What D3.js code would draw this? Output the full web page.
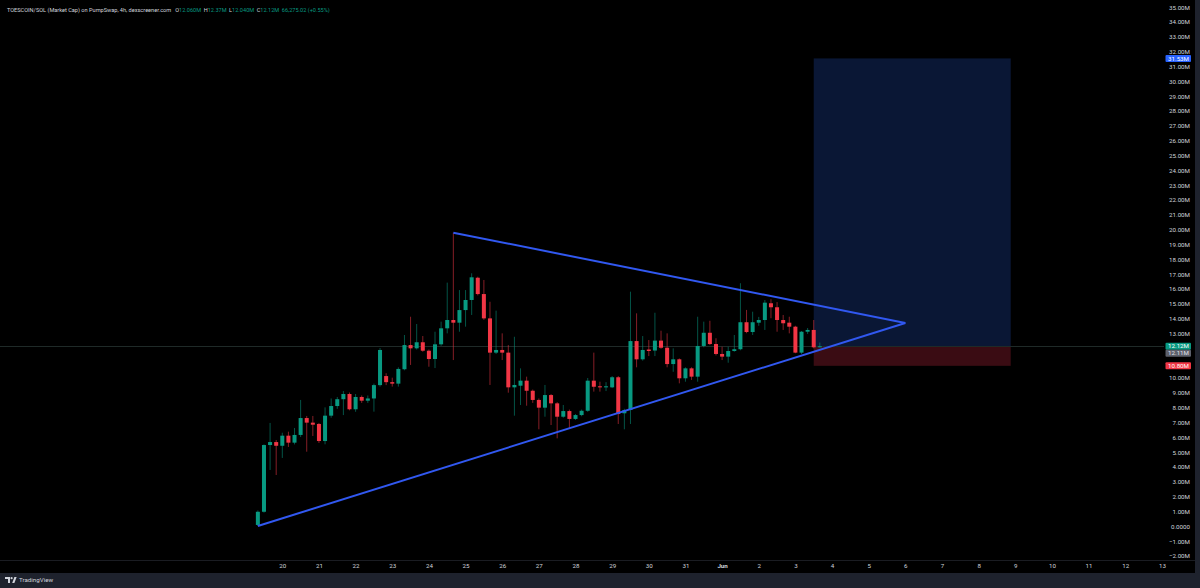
<!DOCTYPE html>
<html><head><meta charset="utf-8">
<script src="https://cdn.jsdelivr.net/npm/d3@7/dist/d3.min.js"></script>
<style>
html,body{margin:0;padding:0;background:#000;}
svg{display:block;}
text{font-family:Roboto,"Liberation Sans",Arial,sans-serif;}
</style></head>
<body>
<svg id="chart" width="1200" height="588"></svg>
<script>
// ---------- DATA ----------
const firstCandle = "2025-05-19T08:00:00Z"; // 4h candles
const opens  = [0.07,0.96,5.46,5.66,5.41,6.09,5.62,6.14,7.28,6.97,6.88,5.73,7.44,8.09,8.55,8.90,7.87,8.70,8.45,8.60,9.50,10.11,9.70,9.60,10.57,12.20,11.98,12.39,11.82,11.26,12.25,13.33,13.89,13.71,14.56,15.24,16.74,15.64,14.00,11.69,11.87,11.69,9.35,9.46,9.80,9.12,8.50,7.98,8.83,8.27,7.37,7.75,7.22,7.48,7.77,9.80,9.42,9.35,9.35,10.03,7.60,7.82,12.47,11.24,11.90,11.83,12.50,12.02,10.92,11.24,9.96,10.63,10.07,12.14,13.03,12.27,11.60,11.42,11.80,11.92,13.74,13.08,13.71,13.89,15.02,14.75,13.89,13.71,13.44,11.69,13.10,13.22,12.06];
const highs  = [1.05,5.50,6.95,5.80,6.29,6.36,6.61,8.50,7.42,7.42,6.95,8.00,8.60,8.70,9.10,9.00,8.90,8.80,8.80,9.60,12.00,10.30,10.00,10.70,12.88,14.11,13.62,12.81,11.90,13.10,13.78,16.41,19.78,15.91,15.91,17.04,16.81,16.59,15.12,14.52,12.99,12.20,12.76,10.63,10.07,9.20,8.60,9.51,8.90,8.35,8.16,7.85,7.55,7.85,9.98,11.69,9.73,9.70,10.11,10.11,7.90,15.80,14.34,12.81,12.54,14.38,13.17,12.99,11.98,11.30,10.70,10.70,14.11,13.78,13.84,12.66,12.09,12.09,12.88,16.37,14.57,14.45,14.10,15.24,15.29,15.10,14.23,14.11,13.50,13.15,13.35,13.89,12.37];
const lows   = [0.00,0.90,3.78,3.44,4.59,5.33,5.50,6.00,5.01,6.07,5.60,5.51,7.30,7.90,7.48,7.80,7.70,8.30,8.30,7.71,9.40,9.50,9.40,9.40,10.50,10.86,11.90,11.75,10.74,10.65,12.15,12.99,11.19,13.10,13.44,14.23,15.55,13.90,9.51,11.60,11.19,8.99,7.44,8.16,8.11,8.30,6.52,7.37,6.81,5.91,7.30,6.59,7.15,7.40,7.70,9.06,9.06,9.10,9.30,6.88,6.52,6.88,10.70,11.15,11.46,11.46,11.95,10.70,10.40,9.62,9.73,9.85,9.73,12.05,12.20,11.50,11.19,11.01,11.75,11.85,13.00,12.88,13.50,13.22,14.01,13.10,13.22,12.99,11.65,11.60,12.95,11.98,12.04];
const closes = [0.96,5.46,5.66,5.41,6.09,5.62,6.14,7.28,6.97,6.83,5.73,7.44,8.09,8.55,8.90,7.87,8.70,8.45,8.60,9.50,11.87,9.70,9.60,10.59,12.20,11.98,12.39,11.82,11.26,12.25,13.33,13.89,13.71,14.56,15.24,16.77,15.64,14.00,11.69,11.87,11.69,9.35,9.51,9.80,9.12,8.50,7.98,8.83,8.27,7.37,7.75,7.22,7.48,7.77,9.80,9.39,9.35,9.42,10.03,7.55,7.82,12.47,11.24,11.87,11.80,12.50,12.02,10.92,11.24,9.96,10.63,10.07,12.14,13.03,12.27,11.60,11.42,11.80,11.92,13.74,13.08,13.74,13.89,15.06,14.75,13.89,13.67,13.44,11.69,13.10,13.22,12.05,12.12];

const trendUpper = [{t:"2025-05-24T16:00:00Z", v:19.78},{t:"2025-06-06T00:00:00Z", v:13.69}];
const trendLower = [{t:"2025-05-19T08:00:00Z", v:0.00},{t:"2025-06-06T00:00:00Z", v:13.69}];
const posStart = "2025-06-03T12:00:00Z", posEnd = "2025-06-08T21:00:00Z";
const posTarget = 31.53, posEntry = 12.11, posStop = 10.80, lastPrice = 12.12;

// 11.00M and 12.00M sit under the price badges in the reference
const yTicks = d3.range(-2, 36, 1).filter(v => v !== 11 && v !== 12);
const xTickDays = d3.range(0, 25).map(i => new Date(Date.UTC(2025, 4, 20 + i)));

const headerTitle = "TOESCOIN/SOL (Market Cap) on PumpSwap, 4h, dexscreener.com";
const headerOHLC = [["O","12.060M"],["H","12.37M"],["L","12.040M"],["C","12.12M"]];
const headerChange = "66,275.02 (+0.55%)";

// ---------- LAYOUT ----------
const W = 1200, H = 588;
const plotRight = 1164, plotBottom = 560;
const UP = "#089981", DOWN = "#f23645", TEXT = "#d1d4dc", LINE = "#3158f0";

const svg = d3.select("#chart");
svg.append("rect").attr("width", W).attr("height", H).attr("fill", "#000");

const x = d3.scaleUtc()
  .domain([new Date(Date.UTC(2025,4,20)), new Date(Date.UTC(2025,5,13))])
  .range([282.3, 282.3 + 24*36.65]);
const y = d3.scaleLinear().domain([0, 35]).range([526, 6.95]);

const t0 = new Date(firstCandle).getTime();
const candles = opens.map((o,i) => ({
  t: new Date(t0 + i*4*3600*1000), o, h: highs[i], l: lows[i], c: closes[i]
}));

const plot = svg.append("g");

// position box
const px0 = x(new Date(posStart)), px1 = x(new Date(posEnd));
plot.append("rect").attr("x", px0).attr("width", px1-px0)
  .attr("y", y(posTarget)).attr("height", y(posEntry)-y(posTarget))
  .attr("fill", "#0a1735");
plot.append("rect").attr("x", px0).attr("width", px1-px0)
  .attr("y", y(posEntry)).attr("height", y(posStop)-y(posEntry))
  .attr("fill", "#3a0c13");

// last price line
plot.append("line").attr("x1", 0).attr("x2", plotRight)
  .attr("y1", Math.round(y(lastPrice))+0.5).attr("y2", Math.round(y(lastPrice))+0.5)
  .attr("stroke", "#1f2a28").attr("stroke-width", 1);

// candles
const bw = 4;
const cg = plot.append("g");
candles.forEach(d => {
  const col = d.c >= d.o ? UP : DOWN;
  const cx = x(d.t);
  cg.append("line").attr("x1", cx).attr("x2", cx)
    .attr("y1", y(d.h)).attr("y2", y(d.l))
    .attr("stroke", col).attr("stroke-width", 1).attr("stroke-opacity", 0.55);
  const top = y(Math.max(d.o,d.c)), bot = y(Math.min(d.o,d.c));
  cg.append("rect").attr("x", cx - bw/2).attr("width", bw)
    .attr("y", top).attr("height", Math.max(1, bot-top)).attr("fill", col);
});

// trend lines
const ln = d3.line().x(d => x(new Date(d.t))).y(d => y(d.v));
[trendUpper, trendLower].forEach(tl => {
  plot.append("path").attr("d", ln(tl)).attr("fill","none")
    .attr("stroke", LINE).attr("stroke-width", 2);
});

// ---------- PRICE AXIS ----------
const yAxis = d3.axisRight(y).tickValues(yTicks).tickSize(0).tickPadding(0)
  .tickFormat(v => v === 0 ? "0.0000" : d3.format(".2f")(v) + "M");
const ya = svg.append("g").attr("transform", `translate(1190,0)`).call(yAxis);
ya.select(".domain").remove();
ya.selectAll("text").attr("fill", TEXT).attr("font-size", 6.2)
  .attr("text-anchor","end").attr("dy","0.35em").attr("x",0);

// badges
function badge(val, cy, fill, fg) {
  const g = svg.append("g");
  g.append("rect").attr("x", 1165.5).attr("y", cy-3.5).attr("width", 25.5).attr("height", 7)
    .attr("fill", fill).attr("rx", 1);
  g.append("text").attr("x", 1189).attr("y", cy).attr("dy","0.35em")
    .attr("text-anchor","end").attr("font-size", 6.2).attr("fill", fg)
    .text(d3.format(".2f")(val) + "M");
}
badge(posTarget, y(posTarget), "#2962ff", "#ffffff");
badge(lastPrice, y(lastPrice), UP, "#ffffff");
badge(posEntry, y(lastPrice)+7, "#5d606b", "#e0e3eb");
badge(posStop, y(posStop), DOWN, "#ffffff");

// ---------- TIME AXIS ----------
svg.append("rect").attr("x",0).attr("y",plotBottom).attr("width",1195).attr("height",13).attr("fill","#000");
svg.append("line").attr("x1",0).attr("x2",1195).attr("y1",plotBottom+0.5).attr("y2",plotBottom+0.5)
  .attr("stroke","#1a1c22");
const xAxis = d3.axisBottom(x).tickValues(xTickDays).tickSize(0).tickPadding(0)
  .tickFormat(d => (d.getUTCDate() === 1 ? "Jun" : String(d.getUTCDate())));
const xa = svg.append("g").attr("transform", `translate(0,${plotBottom+4})`).call(xAxis);
xa.select(".domain").remove();
xa.selectAll("text").attr("fill", TEXT).attr("font-size", 6.2).attr("dy","0.71em")
  .attr("font-weight", d => d.getUTCDate() === 1 ? "bold" : "normal");

// bottom & right frame
svg.append("rect").attr("x",0).attr("y",573).attr("width",W).attr("height",15).attr("fill","#1e222d");
svg.append("rect").attr("x",1195).attr("y",0).attr("width",5).attr("height",H).attr("fill","#1e222d");

// TradingView logo
const logo = svg.append("g").attr("transform","translate(5,577)");
logo.append("path").attr("d","M0,0 H5 V6 H3 V2 H0 Z").attr("fill","#d1d4dc");
logo.append("circle").attr("cx",6.6).attr("cy",1.2).attr("r",1.1).attr("fill","#d1d4dc");
logo.append("path").attr("d","M7.2,6 L9.4,0 H11.6 L9.4,6 Z").attr("fill","#d1d4dc");
svg.append("text").attr("x",19).attr("y",580).attr("dy","0.35em").attr("font-size",6.2)
  .attr("fill","#d1d4dc").text("TradingView");

// ---------- HEADER ----------
const ht = svg.append("text").attr("x",7).attr("y",10).attr("dy","0.35em").attr("font-size",5.6);
ht.append("tspan").attr("fill",TEXT).text(headerTitle);
headerOHLC.forEach(([k,v],i) => {
  ht.append("tspan").attr("fill",TEXT).attr("dx", i===0 ? 4 : 2.5).text(k);
  ht.append("tspan").attr("fill",UP).text(v);
});
ht.append("tspan").attr("fill",UP).attr("dx",2.5).text(headerChange);
</script>
</body></html>
